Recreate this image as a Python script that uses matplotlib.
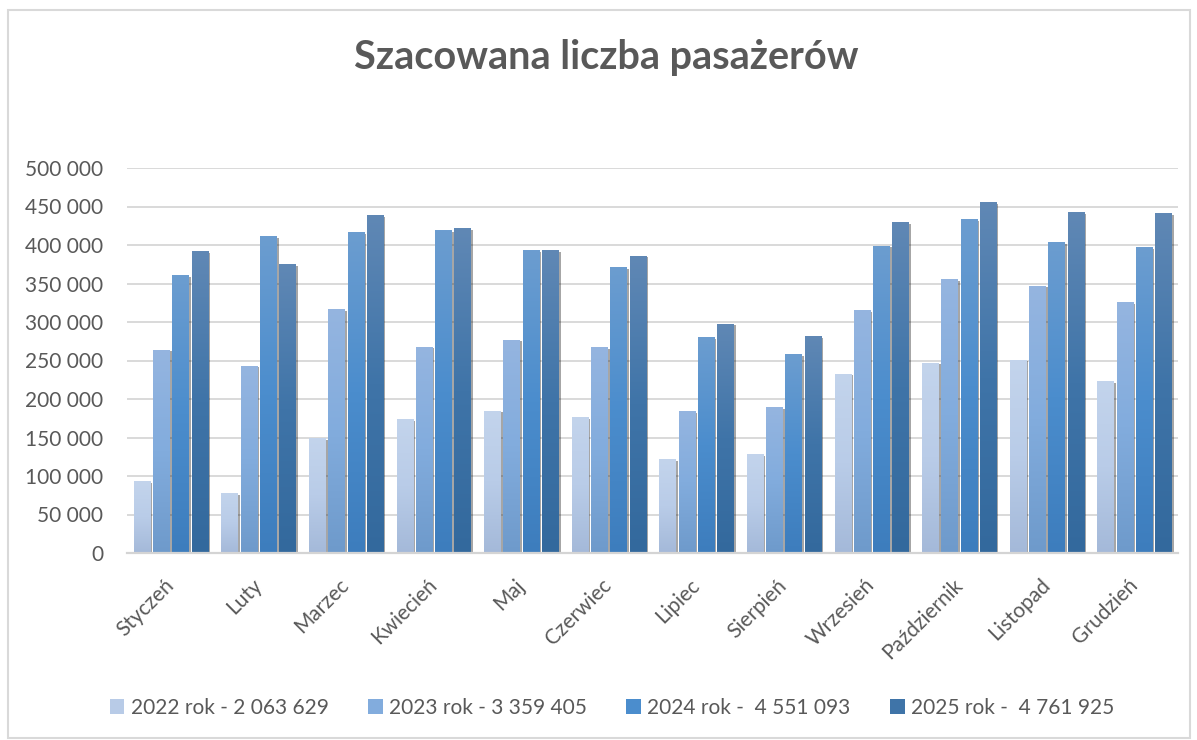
import numpy as np
import matplotlib
matplotlib.use("Agg")
import matplotlib.pyplot as plt
from matplotlib.colors import LinearSegmentedColormap
from matplotlib.patches import Rectangle
import matplotlib.patheffects as pe

# ---- data ----
months = ["Styczeń", "Luty", "Marzec", "Kwiecień", "Maj", "Czerwiec", "Lipiec",
          "Sierpień", "Wrzesień", "Październik", "Listopad", "Grudzień"]
series_labels = ["2022 rok - 2 063 629", "2023 rok - 3 359 405",
                 "2024 rok -  4 551 093", "2025 rok -  4 761 925"]
v2022 = [93500, 78000, 149500, 174000, 185000, 176000, 122000, 128000, 233000, 247000, 251000, 223000]
v2023 = [264000, 243500, 317000, 268000, 277000, 267000, 184000, 189000, 315000, 356000, 347000, 326000]
v2024 = [361000, 411600, 417000, 419000, 393500, 371500, 280000, 258000, 399000, 433600, 404000, 397000]
v2025 = [392000, 375000, 439000, 422000, 393500, 386000, 298000, 282000, 430000, 455600, 442700, 441000]
yticks = list(range(0, 500001, 50000))

# gradient stops (bottom, middle, top)
grads = [
    ["#a4b9d9", "#b9cce8", "#c3d4ec"],
    ["#6e9acb", "#82acdd", "#95b5e0"],
    ["#3d7dbd", "#4b8dcd", "#6c9dd0"],
    ["#33699d", "#3f74a8", "#6088b5"],
]
legend_colors = ["#b8cbe7", "#82acdd", "#4b8dcd", "#3f74a8"]

TXT = "#595959"
plt.rcParams['font.family'] = ['Lato', 'DejaVu Sans']

W, H = 1197, 740
fig = plt.figure(figsize=(W / 100, H / 100), dpi=100)
fig.patch.set_facecolor("white")

# outer chart border
fig.patches.append(Rectangle((8 / W, 1 - 738 / H), (1190 - 8) / W, (738 - 9.5) / H,
                             transform=fig.transFigure, fill=False,
                             edgecolor="#d9d9d9", linewidth=1.5))

ax = fig.add_axes([127 / W, 1 - 553 / H, (1178 - 127) / W, (553 - 168) / H])

x = np.arange(len(months))
pitch = 0.22
bw = 0.183
all_vals = [v2022, v2023, v2024, v2025]
grad_img = np.linspace(0, 1, 256).reshape(-1, 1)

for i, vals in enumerate(all_vals):
    cmap = LinearSegmentedColormap.from_list(f"g{i}", grads[i])
    bars = ax.bar(x + (i - 1.5) * pitch, vals, width=bw, color=legend_colors[i],
                  zorder=2, label=series_labels[i], linewidth=0)
    for r in bars:
        r.set_path_effects([pe.SimplePatchShadow(offset=(1.8, -1.2), shadow_rgbFace="black", alpha=0.35),
                            pe.Normal()])
        x0, _ = r.get_xy()
        w = r.get_width()
        h = r.get_height()
        im = ax.imshow(grad_img, extent=[x0, x0 + w, 0, h], aspect="auto", cmap=cmap,
                       origin="lower", zorder=3, interpolation="bilinear")
        im.set_clip_path(r)

ax.set_xlim(-0.5, len(months) - 0.5)
ax.set_ylim(0, 500000)
ax.set_aspect("auto")
ax.set_yticks(yticks)
ax.set_yticklabels([f"{v:,}".replace(",", " ") for v in yticks])
ax.set_xticks(x)
ax.set_xticklabels(months, rotation=45, ha="right", va="center", rotation_mode="anchor")
ax.tick_params(axis="both", length=0, labelsize=15, labelcolor=TXT)
ax.tick_params(axis="y", pad=17)
ax.tick_params(axis="x", pad=21)
ax.set_axisbelow(True)
ax.yaxis.grid(True, color="#d9d9d9", linewidth=1.4)
for s in ["top", "right", "left"]:
    ax.spines[s].set_visible(False)
ax.spines["bottom"].set_color("#d4d4d4")
ax.spines["bottom"].set_linewidth(1.6)
ax.spines["bottom"].set_zorder(4)

fig.text(606.5 / W, 1 - 69 / H, "Szacowana liczba pasażerów", ha="center", va="baseline",
         fontsize=28.5, fontweight="bold", color=TXT)

handles = [Rectangle((0, 0), 1, 1, facecolor=c, edgecolor="none") for c in legend_colors]
leg = fig.legend(handles, series_labels, loc="center", bbox_to_anchor=(612 / W, 1 - 708 / H),
                 ncol=4, frameon=False, fontsize=15, handlelength=0.7, handleheight=0.7,
                 handletextpad=0.3, columnspacing=1.9, labelcolor=TXT)

fig.savefig("out.png", dpi=100, facecolor="white")
